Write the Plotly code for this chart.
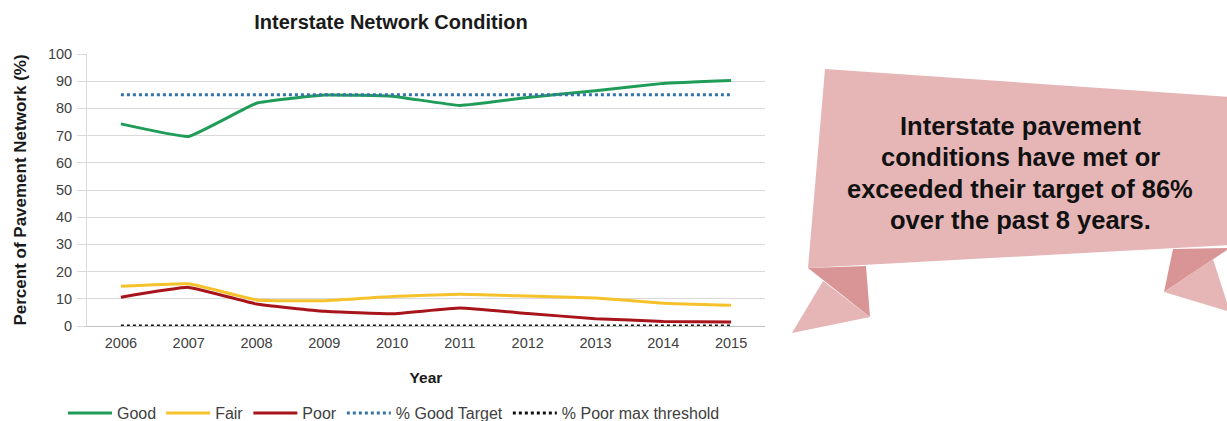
import plotly.graph_objects as go

years = ["2006", "2007", "2008", "2009", "2010", "2011", "2012", "2013", "2014", "2015"]
good = [74.3, 69.7, 81.9, 84.9, 84.5, 81.1, 84.0, 86.5, 89.2, 90.3]
fair = [14.6, 15.5, 9.6, 9.3, 10.8, 11.7, 11.0, 10.3, 8.4, 7.6]
poor = [10.6, 14.2, 8.1, 5.4, 4.5, 6.6, 4.6, 2.7, 1.7, 1.5]
good_target = [85] * 10
poor_threshold = [0] * 10
banner_lines = ["Interstate pavement", "conditions have met or",
                "exceeded their target of 86%", "over the past 8 years."]

W, H = 1227, 421
L, R, T, B = 87, 765, 54, 326
FONT = "Liberation Sans, Arial, sans-serif"

fig = go.Figure()
fig.add_trace(go.Scatter(x=years, y=good, name="Good", mode="lines",
                         line=dict(color="#1F9D58", width=3, shape="spline", smoothing=0.3)))
fig.add_trace(go.Scatter(x=years, y=fair, name="Fair", mode="lines",
                         line=dict(color="#F5C22B", width=3, shape="spline", smoothing=0.3)))
fig.add_trace(go.Scatter(x=years, y=poor, name="Poor", mode="lines",
                         line=dict(color="#A8141B", width=3, shape="spline", smoothing=0.3)))
fig.add_trace(go.Scatter(x=years, y=good_target, name="% Good Target", mode="lines",
                         line=dict(color="#3573A6", width=3, dash="dot")))
fig.add_trace(go.Scatter(x=years, y=poor_threshold, name="% Poor max threshold", mode="lines",
                         line=dict(color="#111111", width=3, dash="dot")))


def px(x, y):
    return (x - L) / (R - L), (B - y) / (B - T)


def poly(points, color):
    pts = [px(x, y) for x, y in points]
    path = "M " + " L ".join(f"{a:.5f},{b:.5f}" for a, b in pts) + " Z"
    fig.add_shape(type="path", path=path, xref="paper", yref="paper",
                  fillcolor=color, line=dict(width=0), layer="above")


light = "#E6B6B7"
dark = "#D99596"
# left tail
poly([(808, 268), (866, 266), (870, 317)], dark)
poly([(823, 281), (870, 317), (792, 333)], light)
# right tail
poly([(1173, 249), (1230, 248), (1164, 292)], dark)
poly([(1164, 292), (1213, 259), (1230, 312)], light)
# main banner
poly([(825, 69), (1230, 97), (1230, 245), (808, 268)], light)

for i, line in enumerate(banner_lines):
    ax, ay = px(1020, 126 + i * 31.3)
    fig.add_annotation(
        text=line, xref="paper", yref="paper",
        x=ax, y=ay, xanchor="center", yanchor="middle",
        showarrow=False,
        font=dict(family=FONT, size=25.5, color="#111111", weight="bold"),
    )

fig.update_layout(
    width=W, height=H,
    margin=dict(l=L, r=W - R, t=T, b=H - B),
    paper_bgcolor="white", plot_bgcolor="white",
    font=dict(family=FONT, color="#404040", size=14),
    title=dict(text="<b>Interstate Network Condition</b>", xref="container", yref="container",
               x=391 / W, y=1 - 22 / H, xanchor="center", yanchor="middle",
               font=dict(size=20, color="#1a1a1a")),
    showlegend=True,
    legend=dict(orientation="h", xref="container", yref="container",
                x=394 / W, y=1 - 413 / H, xanchor="center", yanchor="middle",
                font=dict(size=16, color="#404040"), itemwidth=44, tracegroupgap=0),
    xaxis=dict(type="category", range=[-0.5, 9.5], showgrid=False, showline=True,
               linecolor="#BFBFBF", ticks="", tickfont=dict(size=14.5, color="#404040"),
               ticklabelstandoff=4,
               title=dict(text="<b>Year</b>", font=dict(size=15.5, color="#1a1a1a"), standoff=21)),
    yaxis=dict(range=[0, 100], dtick=10, showgrid=True, gridcolor="#D9D9D9",
               showline=True, linecolor="#D9D9D9", ticks="outside", ticklen=9,
               tickcolor="#D9D9D9", zeroline=False, tickfont=dict(size=14.5, color="#404040"),
               ticklabelstandoff=2,
               title=dict(text="<b>Percent of Pavement Network (%)</b>",
                          font=dict(size=17, color="#1a1a1a"), standoff=16)),
)

fig.write_html("out.html")
